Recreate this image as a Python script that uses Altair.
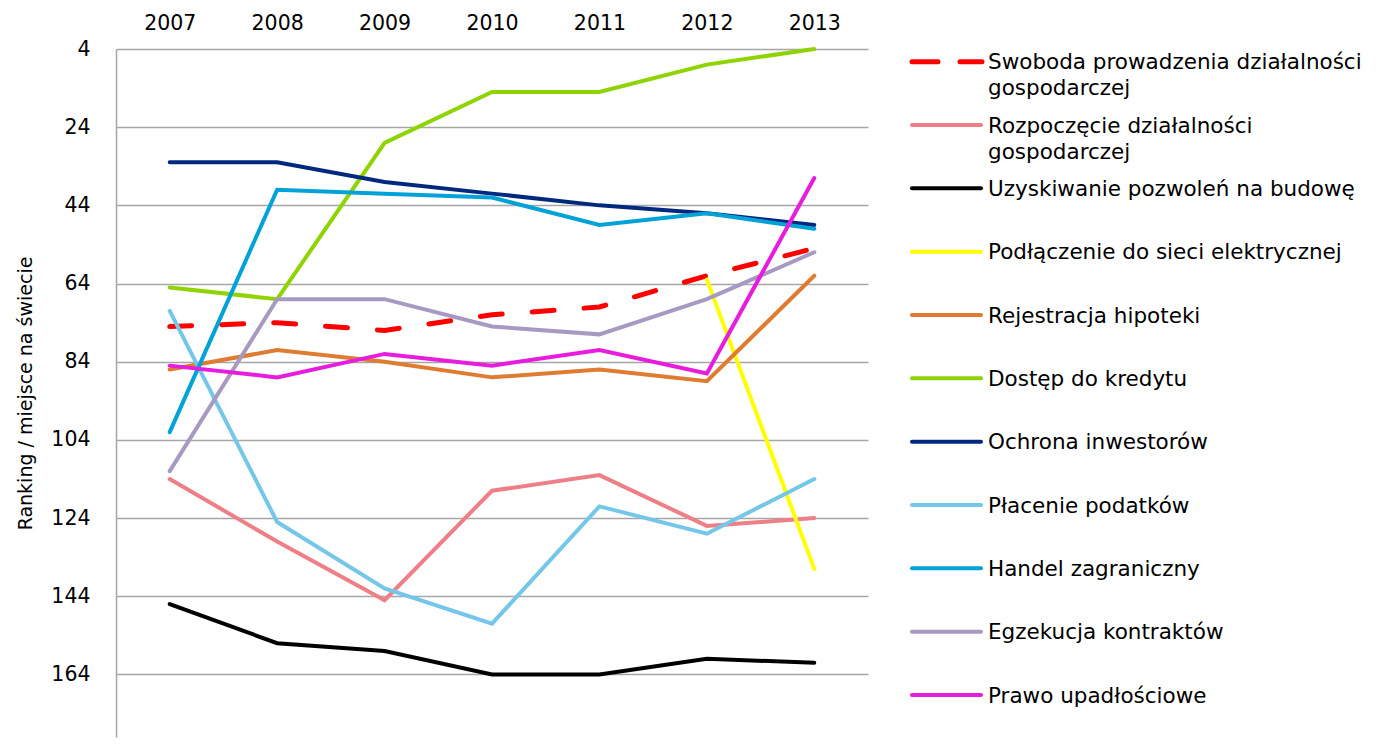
import altair as alt
import pandas as pd

years = ["2007", "2008", "2009", "2010", "2011", "2012", "2013"]

series_names = [
    "Swoboda prowadzenia działalności gospodarczej",
    "Rozpoczęcie działalności gospodarczej",
    "Uzyskiwanie pozwoleń na budowę",
    "Podłączenie do sieci elektrycznej",
    "Rejestracja hipoteki",
    "Dostęp do kredytu",
    "Ochrona inwestorów",
    "Płacenie podatków",
    "Handel zagraniczny",
    "Egzekucja kontraktów",
    "Prawo upadłościowe",
]

swoboda = [75, 74, 76, 72, 70, 62, 55]
rozpoczecie = [114, 130, 145, 117, 113, 126, 124]
uzyskiwanie = [146, 156, 158, 164, 164, 160, 161]
podlaczenie = [None, None, None, None, None, 63, 137]
rejestracja = [86, 81, 84, 88, 86, 89, 62]
dostep = [65, 68, 28, 15, 15, 8, 4]
ochrona = [33, 33, 38, 41, 44, 46, 49]
placenie = [71, 125, 142, 151, 121, 128, 114]
handel = [102, 40, 41, 42, 49, 46, 50]
egzekucja = [112, 68, 68, 75, 77, 68, 56]
prawo = [85, 88, 82, 85, 81, 87, 37]

series_values = [swoboda, rozpoczecie, uzyskiwanie, podlaczenie, rejestracja,
                 dostep, ochrona, placenie, handel, egzekucja, prawo]

colors = ["#FF0000", "#EF7F87", "#000000", "#FFFF00", "#E07B32", "#8FD400",
          "#00287F", "#74C7E8", "#00A2D8", "#A899C2", "#E81CDC"]

y_ticks = [4, 24, 44, 64, 84, 104, 124, 144, 164]

FONT = "DejaVu Sans"

rows = []
for si, (name, vals) in enumerate(zip(series_names, series_values)):
    for y, v in zip(years, vals):
        if v is not None:
            rows.append({"series": name, "year": y, "value": v, "order": si})
df = pd.DataFrame(rows)

color_scale = alt.Scale(domain=series_names, range=colors)

x_enc = alt.X("year:O", sort=years,
              scale=alt.Scale(type="point", padding=0.5),
              axis=alt.Axis(orient="top", title=None, labelAngle=0, ticks=False,
                            tickSize=0, domain=False, labelPadding=16,
                            labelFontSize=20.5, labelFont=FONT, labelColor="#000000",
                            grid=False))
y_enc = alt.Y("value:Q",
              scale=alt.Scale(domain=[4, 180], reverse=True, nice=False, zero=False),
              axis=alt.Axis(values=y_ticks, title="Ranking / miejsce na świecie",
                            titleFontSize=19, titleFont=FONT, titleFontWeight="normal",
                            titleColor="#000000", titlePadding=15,
                            labelFontSize=20.5, labelFont=FONT, labelColor="#000000",
                            labelPadding=26, ticks=False, tickSize=0,
                            domain=True, domainColor="#A6A6A6", domainWidth=1.5,
                            grid=True, gridColor="#A6A6A6", gridWidth=1.3))

base = alt.Chart(df)

solid = base.transform_filter(
    alt.datum.series != series_names[0]
).mark_line(strokeWidth=4, strokeCap="round", strokeJoin="miter").encode(
    x=x_enc, y=y_enc,
    color=alt.Color("series:N", scale=color_scale, legend=None),
    detail="series:N",
)

dashed = base.transform_filter(
    alt.datum.series == series_names[0]
).mark_line(strokeWidth=5, strokeDash=[22, 30], strokeCap="round").encode(
    x=x_enc, y=y_enc,
    color=alt.Color("series:N", scale=color_scale, legend=None),
)

main = alt.layer(dashed, solid).properties(width=752, height=688)

# legend panel
leg_df = pd.DataFrame({
    "series": series_names,
    "label": [n.replace(" gospodarczej", "\ngospodarczej") for n in series_names],
    "idx": list(range(len(series_names))),
})
leg_y = alt.Y("idx:Q", scale=alt.Scale(domain=[-0.2, 10.663], reverse=True, nice=False,
                                       zero=False), axis=None)
leg_base = alt.Chart(leg_df)
leg_solid = leg_base.transform_filter(alt.datum.idx > 0).mark_rule(
    strokeWidth=4, strokeCap="round").encode(
    x=alt.value(44), x2=alt.value(113), y=leg_y,
    color=alt.Color("series:N", scale=color_scale, legend=None))
leg_dash = leg_base.transform_filter(alt.datum.idx == 0).mark_rule(
    strokeWidth=5, strokeCap="round", strokeDash=[26, 22]).encode(
    x=alt.value(44), x2=alt.value(114), y=leg_y,
    color=alt.Color("series:N", scale=color_scale, legend=None))
leg_text = leg_base.mark_text(align="left", baseline="alphabetic", dy=7.5,
                              fontSize=21.5, font=FONT, color="#000000",
                              lineBreak="\n", lineHeight=26).encode(
    x=alt.value(120), y=leg_y, text="label:N")
legend = alt.layer(leg_dash, leg_solid, leg_text).properties(width=490, height=688)

chart = alt.hconcat(main, legend, spacing=0, bounds="flush").properties(
    padding={"left": 8, "top": 5, "right": 0, "bottom": 5},
    background="#FFFFFF",
).configure_view(
    stroke="transparent", strokeWidth=0
)

chart.save("out.html", embed_options={"renderer": "svg", "actions": False})
